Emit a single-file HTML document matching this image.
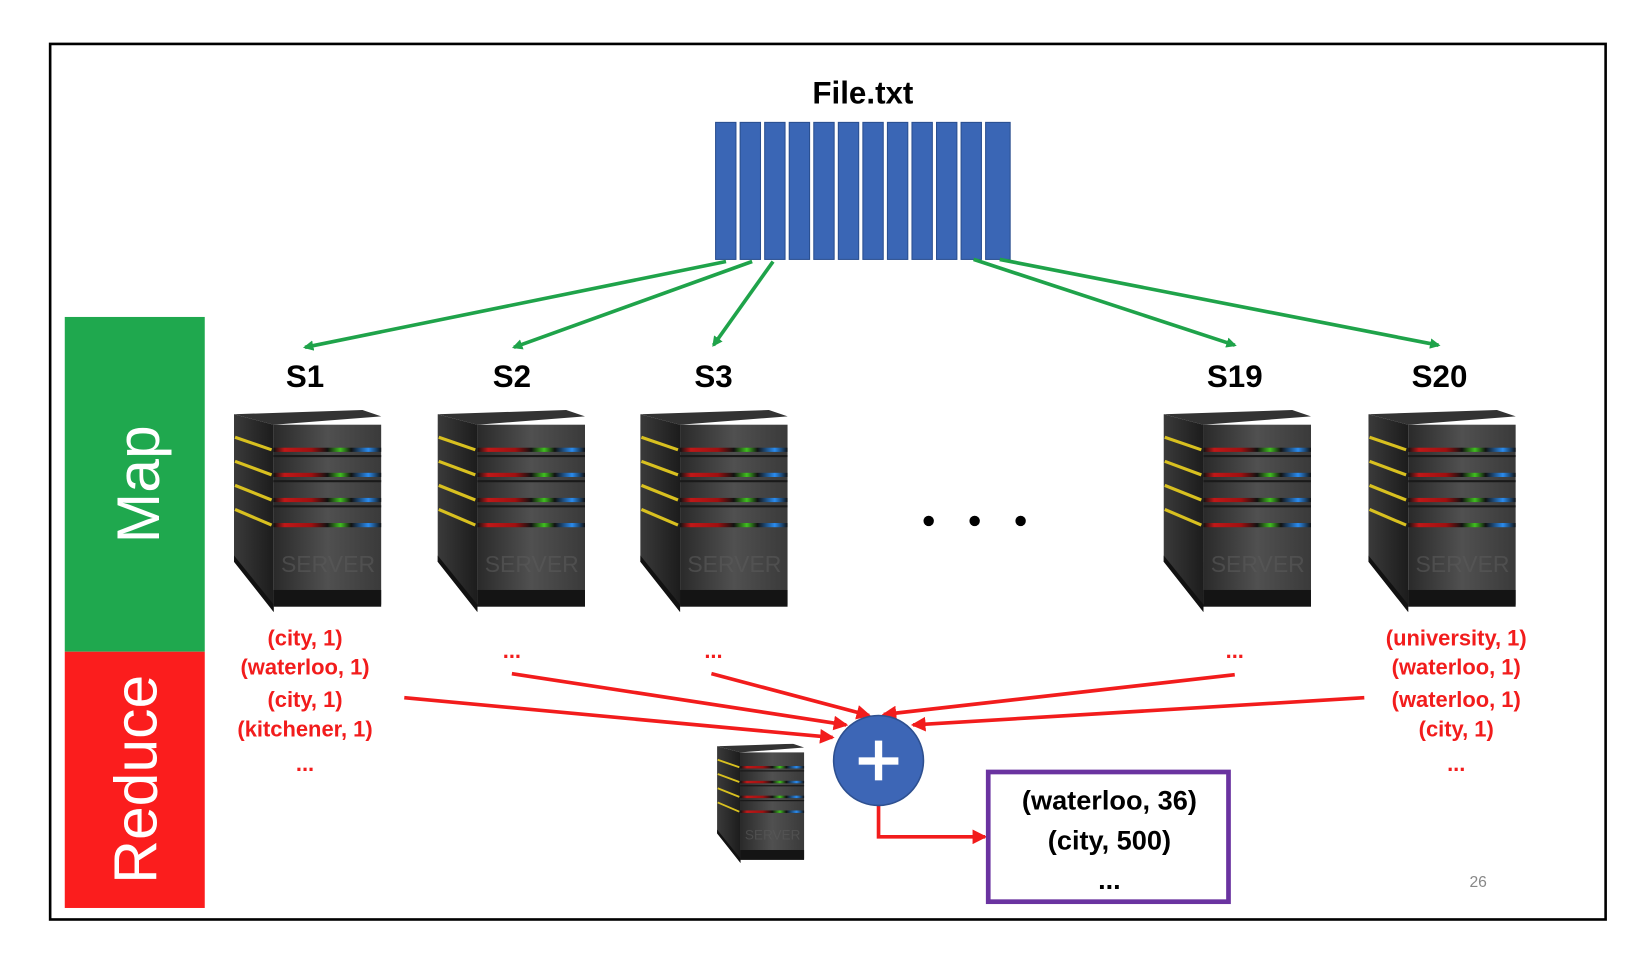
<!DOCTYPE html>
<html><head><meta charset="utf-8"><style>
html,body{margin:0;padding:0;background:#fff;}
svg{display:block}
text{font-family:"Liberation Sans",sans-serif;}
</style></head><body>
<svg width="1638" height="954" viewBox="0 0 1568 912" preserveAspectRatio="none" xmlns="http://www.w3.org/2000/svg">
<defs>
<linearGradient id="strip" x1="0" x2="1">
<stop offset="0" stop-color="#111"/><stop offset="0.1" stop-color="#c01818"/><stop offset="0.35" stop-color="#a01010"/><stop offset="0.5" stop-color="#111"/><stop offset="0.62" stop-color="#40c020"/><stop offset="0.72" stop-color="#111"/><stop offset="0.88" stop-color="#2a8cf0"/><stop offset="1" stop-color="#111"/>
</linearGradient>
<linearGradient id="front" x1="0" x2="1"><stop offset="0" stop-color="#2a2a2a"/><stop offset="0.5" stop-color="#505050"/><stop offset="1" stop-color="#3a3a3a"/></linearGradient>
<linearGradient id="side" x1="0" x2="1"><stop offset="0" stop-color="#3a3a3a"/><stop offset="1" stop-color="#1c1c1c"/></linearGradient>
<symbol id="srv" viewBox="0 0 143 193">
<polygon points="2,4 125,0 143,6 40,14" fill="#333"/>
<polygon points="2,4 40,14 40,193 2,145" fill="url(#side)"/>
<rect x="40" y="14" width="103" height="172" fill="url(#front)"/>
<g stroke="#d8c020" stroke-width="3">
<line x1="3" y1="26" x2="38" y2="38"/><line x1="3" y1="49" x2="38" y2="62"/><line x1="3" y1="72" x2="38" y2="86"/><line x1="3" y1="95" x2="38" y2="110"/>
</g>
<g fill="url(#strip)">
<rect x="40" y="36" width="103" height="4"/><rect x="40" y="60" width="103" height="4"/><rect x="40" y="84" width="103" height="4"/><rect x="40" y="108" width="103" height="4"/>
</g>
<g stroke="#1a1a1a" stroke-width="2"><line x1="40" y1="44" x2="143" y2="44"/><line x1="40" y1="68" x2="143" y2="68"/><line x1="40" y1="92" x2="143" y2="92"/></g>
<text x="92" y="155" font-size="22" text-anchor="middle" fill="#5a5a5a" opacity="0.6">SERVER</text>
<rect x="40" y="172" width="103" height="16" fill="#141414"/>
<polygon points="2,145 40,193 40,186 2,139" fill="#111"/>
</symbol>
<marker id="ga" markerWidth="10" markerHeight="10" refX="8" refY="5" orient="auto" markerUnits="userSpaceOnUse"><path d="M0,0 L10,5 L0,10 z" fill="#1fa34a"/></marker>
<marker id="ra" markerWidth="14" markerHeight="14" refX="12" refY="7" orient="auto" markerUnits="userSpaceOnUse"><path d="M0,0 L14,7 L0,14 z" fill="#f21c1c"/></marker>
</defs>
<rect x="48" y="42" width="1489" height="837" fill="none" stroke="#000" stroke-width="2.5"/>
<text x="826" y="99" font-size="30" font-weight="bold" text-anchor="middle">File.txt</text>
<g fill="#3a66b5" stroke="#2a4f90" stroke-width="1">
<rect x="685" y="117" width="19.5" height="131"/><rect x="708.5" y="117" width="19.5" height="131"/><rect x="732" y="117" width="19.5" height="131"/><rect x="755.5" y="117" width="19.5" height="131"/><rect x="779" y="117" width="19.5" height="131"/><rect x="802.5" y="117" width="19.5" height="131"/><rect x="826" y="117" width="19.5" height="131"/><rect x="849.5" y="117" width="19.5" height="131"/><rect x="873" y="117" width="19.5" height="131"/><rect x="896.5" y="117" width="19.5" height="131"/><rect x="920" y="117" width="19.5" height="131"/><rect x="943.5" y="117" width="23.5" height="131"/>
</g>
<g stroke="#1fa34a" stroke-width="3.5" marker-end="url(#ga)">
<line x1="695" y1="250" x2="292" y2="332"/><line x1="720" y1="250" x2="492" y2="332"/><line x1="740" y1="250" x2="683" y2="330"/><line x1="932" y1="248" x2="1182" y2="330"/><line x1="957" y1="248" x2="1377" y2="330"/>
</g>
<rect x="62" y="303" width="134" height="320" fill="#1fa84e"/>
<rect x="62" y="623" width="134" height="245" fill="#fb1d1d"/>
<text transform="translate(152,463) rotate(-90)" font-size="58" fill="#fff" text-anchor="middle">Map</text>
<text transform="translate(150,745) rotate(-90)" font-size="58" fill="#fff" text-anchor="middle">Reduce</text>
<g font-size="30" font-weight="bold" text-anchor="middle">
<text x="292" y="370">S1</text><text x="490" y="370">S2</text><text x="683" y="370">S3</text><text x="1182" y="370">S19</text><text x="1378" y="370">S20</text>
</g>
<use href="#srv" x="222" y="392" width="143" height="193"/>
<use href="#srv" x="417" y="392" width="143" height="193"/>
<use href="#srv" x="611" y="392" width="143" height="193"/>
<use href="#srv" x="1112" y="392" width="143" height="193"/>
<use href="#srv" x="1308" y="392" width="143" height="193"/>
<use href="#srv" x="685" y="711" width="85" height="114"/>
<circle cx="889" cy="498" r="5"/><circle cx="933" cy="498" r="5"/><circle cx="977" cy="498" r="5"/>
<g font-size="21" font-weight="bold" fill="#f21c1c" text-anchor="middle">
<text x="292" y="617">(city, 1)</text><text x="292" y="645">(waterloo, 1)</text><text x="292" y="676">(city, 1)</text><text x="292" y="704">(kitchener, 1)</text><text x="292" y="737">...</text>
<text x="1394" y="617">(university, 1)</text><text x="1394" y="645">(waterloo, 1)</text><text x="1394" y="676">(waterloo, 1)</text><text x="1394" y="704">(city, 1)</text><text x="1394" y="737">...</text>
<text x="490" y="629">...</text><text x="683" y="629">...</text><text x="1182" y="629">...</text>
</g>
<g stroke="#f21c1c" stroke-width="3.5" marker-end="url(#ra)">
<line x1="387" y1="667" x2="797" y2="705"/><line x1="490" y1="644" x2="810" y2="693"/><line x1="681" y1="644" x2="832" y2="684"/><line x1="1182" y1="645" x2="846" y2="683"/><line x1="1306" y1="667" x2="874" y2="693"/>
</g>
<polyline points="841,768 841,800 943,800" fill="none" stroke="#f21c1c" stroke-width="3.5" marker-end="url(#ra)"/>
<ellipse cx="841" cy="727" rx="43" ry="43" fill="#3d66b6" stroke="#2e5090" stroke-width="1.5"/>
<rect x="822" y="724" width="38" height="7" fill="#fff"/><rect x="837.5" y="708" width="7" height="38" fill="#fff"/>
<rect x="946" y="738" width="230" height="124" fill="#fff" stroke="#6a33a0" stroke-width="4.5"/>
<g font-size="26" font-weight="bold" text-anchor="middle">
<text x="1062" y="774">(waterloo, 36)</text><text x="1062" y="812">(city, 500)</text><text x="1062" y="850">...</text>
</g>
<text x="1415" y="848" font-size="15" fill="#888" text-anchor="middle">26</text>
</svg>
</body></html>
